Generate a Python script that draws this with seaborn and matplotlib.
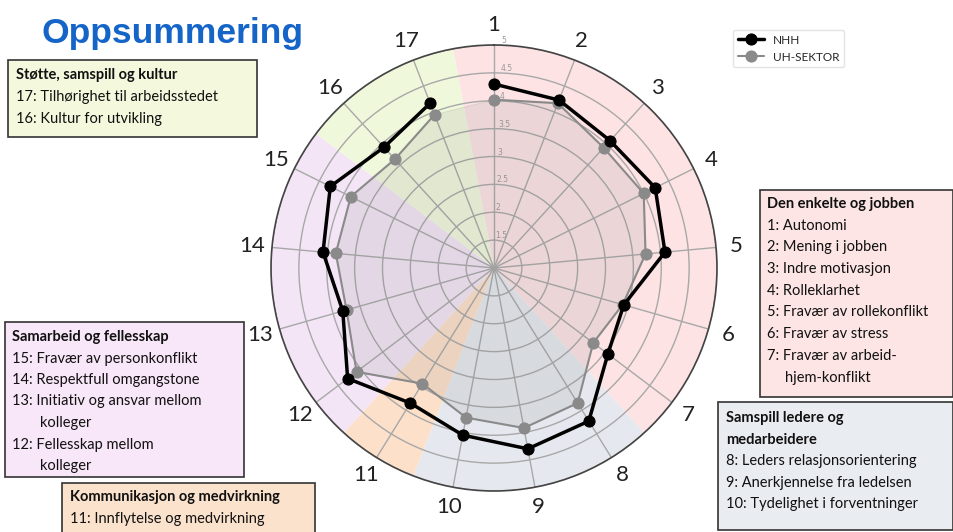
import numpy as np
import pandas as pd
import matplotlib
matplotlib.use("Agg")
import matplotlib.pyplot as plt
import seaborn as sns
from matplotlib.patches import Rectangle

# dimension numbers around the radar (clockwise from the top)
dimensions = [str(i) for i in range(1, 18)]
nhh = [4.30, 4.23, 4.09, 4.23, 4.08, 3.42, 3.56, 4.23, 4.30, 4.05, 3.85, 4.29, 3.82, 4.08, 4.28, 3.93, 4.17]
uh_sektor = [4.02, 4.17, 3.92, 4.00, 3.73, 3.40, 3.23, 3.85, 3.92, 3.73, 3.44, 4.09, 3.75, 3.85, 3.87, 3.64, 3.95]
radial_ticks = [1.5, 2, 2.5, 3, 3.5, 4, 4.5, 5]

# groups of dimensions (in order), number of dimensions in each
group_sizes = [7, 3, 1, 4, 2]
group_colors = ["#fde3e4", "#e5e9ef", "#fce0c9", "#f3e5f6", "#f0f8dc"]

W, H = 954, 532
sns.set_style("white")
plt.rcParams["font.family"] = ["Lato", "DejaVu Sans"]

fig = plt.figure(figsize=(W / 100, H / 100), dpi=100)
cx, cy, R = 494, 268, 223
ax = fig.add_axes([(cx - R) / W, (H - cy - R) / H, 2 * R / W, 2 * R / H], projection="polar")
ax.set_theta_zero_location("N")
ax.set_theta_direction(-1)

n = len(dimensions)
step = 2 * np.pi / n
theta = np.arange(n) * step

# coloured sectors behind the data
start = 0
for size, col in zip(group_sizes, group_colors):
    a0 = (start - 0.5) * step
    ax.bar(a0 + size * step / 2, 4, width=size * step, bottom=1, color=col,
           edgecolor="none", align="center", zorder=0.5)
    start += size

df = pd.DataFrame({
    "theta": np.concatenate([theta, theta[:1]]),
    "NHH": nhh + nhh[:1],
    "UH-SEKTOR": uh_sektor + uh_sektor[:1],
})

ax.fill(df["theta"], df["UH-SEKTOR"], color="#777777", alpha=0.12, zorder=1.8)
sns.lineplot(data=df, x="theta", y="UH-SEKTOR", sort=False, ax=ax, color="#8a8a8a",
             lw=1.5, marker="o", markersize=8, markeredgecolor="#8a8a8a",
             label="UH-SEKTOR", zorder=3)
sns.lineplot(data=df, x="theta", y="NHH", sort=False, ax=ax, color="black",
             lw=2.5, marker="o", markersize=8, markeredgecolor="black",
             label="NHH", zorder=4)

ax.set_ylim(1, 5)
ax.set_yticks(radial_ticks)
ax.set_yticklabels([f"{t:g}" for t in radial_ticks], fontsize=5.5, color="#999999",
                   family=["DejaVu Sans"])
ax.set_rlabel_position(2)
ax.set_xticks(theta)
ax.set_xticklabels(dimensions, fontsize=16, color="#222222")
ax.tick_params(axis="x", pad=4)
ax.set_xlabel("")
ax.set_ylabel("")
ax.grid(True, color="#a8a8a8", lw=1)
ax.spines["polar"].set_color("#444444")
ax.spines["polar"].set_linewidth(1.2)

handles, labels = ax.get_legend_handles_labels()
leg = ax.legend(handles[::-1], labels[::-1], loc="upper left",
                bbox_to_anchor=(727 / W, 1 - 24 / H), bbox_transform=fig.transFigure,
                fontsize=8.5, frameon=True, handlelength=2.2)
leg.get_frame().set_edgecolor("#dddddd")

fig.text(42 / W, 1 - 33 / H, "Oppsummering", fontsize=25.5, fontweight="bold",
         color="#1565c8", va="center", family=["Liberation Sans", "DejaVu Sans"])


def text_box(x0, y0, x1, y1, color, tx, ty, dy, heads, items):
    fig.add_artist(Rectangle((x0 / W, 1 - y1 / H), (x1 - x0) / W, (y1 - y0) / H,
                             transform=fig.transFigure, facecolor=color,
                             edgecolor="#333333", lw=1.2, zorder=5))
    y = ty
    for h in heads:
        fig.text(tx / W, 1 - y / H, h, fontsize=10.5, fontweight="bold",
                 va="center", color="#111111", zorder=6)
        y += dy
    for txt, ind in items:
        fig.text((tx + ind) / W, 1 - y / H, txt, fontsize=10.5,
                 va="center", color="#111111", zorder=6)
        y += dy


text_box(8, 60, 257, 137, "#f4f9de", 16, 75, 22,
         ["Støtte, samspill og kultur"],
         [("17: Tilhørighet til arbeidsstedet", 0), ("16: Kultur for utvikling", 0)])
text_box(760, 190, 953, 397, "#fde5e5", 767, 204, 21.7,
         ["Den enkelte og jobben"],
         [("1: Autonomi", 0), ("2: Mening i jobben", 0), ("3: Indre motivasjon", 0),
          ("4: Rolleklarhet", 0), ("5: Fravær av rollekonflikt", 0),
          ("6: Fravær av stress", 0), ("7: Fravær av arbeid-", 0), ("hjem-konflikt", 18)])
text_box(5, 322, 244, 477, "#f8e7f8", 12, 337, 21.5,
         ["Samarbeid og fellesskap"],
         [("15: Fravær av personkonflikt", 0), ("14: Respektfull omgangstone", 0),
          ("13: Initiativ og ansvar mellom", 0), ("kolleger", 28),
          ("12: Fellesskap mellom", 0), ("kolleger", 28)])
text_box(718, 402, 953, 530, "#e9ecf1", 726, 418, 21.5,
         ["Samspill ledere og", "medarbeidere"],
         [("8: Leders relasjonsorientering", 0), ("9: Anerkjennelse fra ledelsen", 0),
          ("10: Tydelighet i forventninger", 0)])
text_box(62, 483, 315, 540, "#fbe2cc", 70, 497, 22,
         ["Kommunikasjon og medvirkning"],
         [("11: Innflytelse og medvirkning", 0)])

fig.savefig("out.png", dpi=100)
